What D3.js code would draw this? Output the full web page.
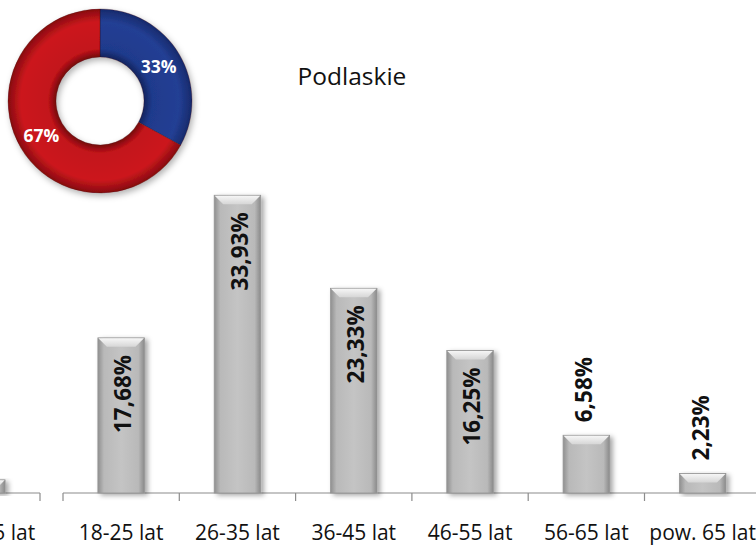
<!DOCTYPE html>
<html lang="pl">
<head>
<meta charset="utf-8">
<title>Podlaskie</title>
<script src="https://cdn.jsdelivr.net/npm/d3@7"></script>
<style>
  html, body { margin: 0; padding: 0; background: #ffffff; }
  svg { display: block; }
  text { font-family: "Open Sans", "Noto Sans", sans-serif; }
</style>
</head>
<body>
<svg id="chart" width="756" height="546"></svg>
<script>
// Age structure, Podlaskie (percent of respondents)
const ageGroups = ["18-25 lat", "26-35 lat", "36-45 lat", "46-55 lat", "56-65 lat", "pow. 65 lat"];
const shares = [17.68, 33.93, 23.33, 16.25, 6.58, 2.23];

// Ring chart in the corner (percent)
const ringShares = [33, 67];
const ringLabels = ["33%", "67%"];

// Trailing edge of the neighbouring panel on the left
const prevCategories = ["pow. 65 lat"];
const prevShares = [1.5];

const title = "Podlaskie";

const fmt = v => d3.format(".2f")(v).replace(".", ",") + "%";

const svg = d3.select("#chart");
const defs = svg.append("defs");

// ---- gradients & filters -------------------------------------------------
const body = defs.append("linearGradient").attr("id", "barBody")
  .attr("x1", 0).attr("x2", 1).attr("y1", 0).attr("y2", 0);
[[0, "#8f8f8f"], [0.13, "#b9b9b9"], [0.5, "#c4c4c4"], [0.87, "#b9b9b9"], [1, "#8a8a8a"]]
  .forEach(([o, c]) => body.append("stop").attr("offset", o).attr("stop-color", c));

const cap = defs.append("linearGradient").attr("id", "barCap")
  .attr("x1", 0).attr("x2", 0).attr("y1", 0).attr("y2", 1);
[[0, "#f6f6f6"], [1, "#d6d6d6"]]
  .forEach(([o, c]) => cap.append("stop").attr("offset", o).attr("stop-color", c));

const shadow = defs.append("filter").attr("id", "barShadow")
  .attr("x", "-30%").attr("y", "-10%").attr("width", "160%").attr("height", "130%");
shadow.append("feDropShadow").attr("dx", 3).attr("dy", 2).attr("stdDeviation", 2.5)
  .attr("flood-color", "#000").attr("flood-opacity", 0.35);

const ringShadow = defs.append("filter").attr("id", "ringShadow")
  .attr("x", "-20%").attr("y", "-20%").attr("width", "140%").attr("height", "140%");
ringShadow.append("feDropShadow").attr("dx", 2).attr("dy", 3).attr("stdDeviation", 3)
  .attr("flood-color", "#000").attr("flood-opacity", 0.3);

// ---- scales ---------------------------------------------------------------
const baseY = 493;
const y = d3.scaleLinear().domain([0, 40]).range([baseY, baseY - 351]);

const axisStart = 63, step = 116.3;
const x = d3.scaleBand().domain(ageGroups)
  .range([axisStart, axisStart + step * ageGroups.length])
  .paddingInner(0.6).paddingOuter(0.3);

const xPrev = d3.scaleBand().domain(ageGroups)
  .range([40 - step * ageGroups.length, 40])
  .paddingInner(0.6).paddingOuter(0.3);

// ---- bars -----------------------------------------------------------------
function drawPanel(g, scale, cats, vals, withLabels) {
  const r = scale.range();
  const n = scale.domain().length;
  const st = scale.step();

  // category axis with ticks between categories
  g.append("line")
    .attr("x1", r[0]).attr("x2", r[1]).attr("y1", baseY).attr("y2", baseY)
    .attr("stroke", "#8c8c8c").attr("stroke-width", 1.2);
  g.selectAll("line.tick").data(d3.range(n + 1)).join("line")
    .attr("class", "tick")
    .attr("x1", i => r[0] + i * st).attr("x2", i => r[0] + i * st)
    .attr("y1", baseY).attr("y2", baseY + 8)
    .attr("stroke", "#8c8c8c").attr("stroke-width", 1.2);

  // category names under the bars that are present
  const axis = d3.axisBottom(scale).tickValues(cats).tickSize(0).tickPadding(0);
  const ax = g.append("g").attr("transform", `translate(0,${baseY + 47})`).call(axis);
  ax.select(".domain").remove();
  ax.selectAll("text")
    .attr("font-family", "Open Sans, Noto Sans, sans-serif")
    .attr("font-size", 21).attr("fill", "#111").attr("dy", "0");

  const data = cats.map((c, i) => ({ c, v: vals[i] }));
  const bw = scale.bandwidth();
  const bars = g.selectAll("g.bar").data(data).join("g").attr("class", "bar");

  bars.append("rect")
    .attr("x", d => scale(d.c)).attr("y", d => y(d.v))
    .attr("width", bw).attr("height", d => baseY - y(d.v))
    .attr("fill", "url(#barBody)")
    .attr("stroke", "#959595").attr("stroke-width", 0.8)
    .attr("filter", "url(#barShadow)");

  bars.append("polygon")
    .attr("points", d => {
      const x0 = scale(d.c), x1 = x0 + bw, t = y(d.v);
      const b = Math.min(9, (baseY - t) / 2);
      return [[x0 + 0.5, t + 0.5], [x1 - 0.5, t + 0.5], [x1 - b, t + b], [x0 + b, t + b]].join(" ");
    })
    .attr("fill", "url(#barCap)");

  if (withLabels) {
    bars.append("text")
      .attr("transform", d => {
        const cx = scale(d.c) + bw / 2;
        return d.v > 10
          ? `translate(${cx + 2},${y(d.v) + 17}) rotate(-90)`
          : `translate(${cx - 2},${y(d.v) - 13}) rotate(-90)`;
      })
      .attr("text-anchor", d => d.v > 10 ? "end" : "start")
      .attr("dy", "0.36em")
      .attr("font-size", 22.5).attr("font-weight", 700).attr("fill", "#111")
      .text(d => fmt(d.v));
  }
}

drawPanel(svg.append("g"), xPrev, prevCategories, prevShares, false);
drawPanel(svg.append("g"), x, ageGroups, shares, true);

// ---- ring -----------------------------------------------------------------
const cx = 100, cy = 101, rOuter = 92, rInner = 44;
const ringColors = [
  ["#13245e", "#1f3a8c", "#233f94", "#172a6c"],
  ["#760a0d", "#c3131a", "#cc171d", "#860b0f"]
];
ringColors.forEach((cols, i) => {
  const rg = defs.append("radialGradient").attr("id", "ring" + i)
    .attr("gradientUnits", "userSpaceOnUse")
    .attr("cx", 0).attr("cy", 0).attr("r", rOuter);
  const k = rInner / rOuter;
  [[k, cols[0]], [k + 0.09, cols[1]], [0.86, cols[2]], [1, cols[3]]]
    .forEach(([o, c]) => rg.append("stop").attr("offset", o).attr("stop-color", c));
});

const pie = d3.pie().sort(null)(ringShares);
const arc = d3.arc().innerRadius(rInner).outerRadius(rOuter);
const labelArc = d3.arc().innerRadius((rInner + rOuter) / 2).outerRadius((rInner + rOuter) / 2);

const ring = svg.append("g").attr("transform", `translate(${cx},${cy})`);
ring.append("g").attr("filter", "url(#ringShadow)")
  .selectAll("path").data(pie).join("path")
  .attr("d", arc)
  .attr("fill", (d, i) => `url(#ring${i})`)
  .attr("stroke", "rgba(60,0,0,0.35)").attr("stroke-width", 0.8);

ring.selectAll("text").data(pie).join("text")
  .attr("transform", d => `translate(${labelArc.centroid(d)})`)
  .attr("text-anchor", "middle").attr("dy", "0.36em")
  .attr("font-size", 17.5).attr("font-weight", 700).attr("fill", "#ffffff")
  .text((d, i) => ringLabels[i]);

// ---- title ----------------------------------------------------------------
svg.append("text")
  .attr("x", 352).attr("y", 85)
  .attr("text-anchor", "middle")
  .attr("font-size", 24.5).attr("fill", "#111")
  .text(title);
</script>
</body>
</html>
